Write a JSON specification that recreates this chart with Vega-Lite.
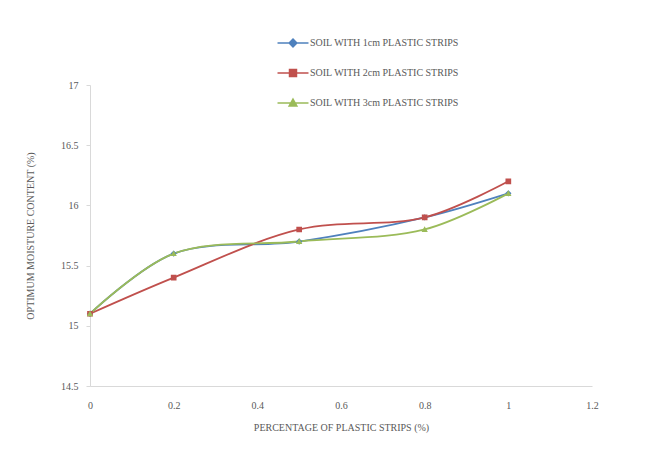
{
  "$schema": "https://vega.github.io/schema/vega-lite/v6.json",
  "width": 502,
  "height": 301,
  "autosize": {"type": "none"},
  "padding": {"left": 90, "top": 85, "right": 69, "bottom": 80},
  "background": "white",
  "config": {
    "view": {"stroke": null},
    "font": "Liberation Serif",
    "axis": {"labelFont": "Liberation Serif", "titleFont": "Liberation Serif", "labelColor": "#595959", "titleColor": "#595959", "labelFontSize": 10, "titleFontSize": 10, "titleFontWeight": "normal", "grid": false, "domainColor": "#d9d9d9", "tickColor": "#d9d9d9"},
    "legend": {"labelFont": "Liberation Serif", "labelFontSize": 10, "labelColor": "#595959"}
  },
  "data": {
    "values": [
      {"pct": 0, "omc": 15.1, "series": "SOIL WITH 1cm PLASTIC STRIPS"},
      {"pct": 0.2, "omc": 15.6, "series": "SOIL WITH 1cm PLASTIC STRIPS"},
      {"pct": 0.5, "omc": 15.7, "series": "SOIL WITH 1cm PLASTIC STRIPS"},
      {"pct": 0.8, "omc": 15.9, "series": "SOIL WITH 1cm PLASTIC STRIPS"},
      {"pct": 1.0, "omc": 16.1, "series": "SOIL WITH 1cm PLASTIC STRIPS"},
      {"pct": 0, "omc": 15.1, "series": "SOIL WITH 2cm PLASTIC STRIPS"},
      {"pct": 0.2, "omc": 15.4, "series": "SOIL WITH 2cm PLASTIC STRIPS"},
      {"pct": 0.5, "omc": 15.8, "series": "SOIL WITH 2cm PLASTIC STRIPS"},
      {"pct": 0.8, "omc": 15.9, "series": "SOIL WITH 2cm PLASTIC STRIPS"},
      {"pct": 1.0, "omc": 16.2, "series": "SOIL WITH 2cm PLASTIC STRIPS"},
      {"pct": 0, "omc": 15.1, "series": "SOIL WITH 3cm PLASTIC STRIPS"},
      {"pct": 0.2, "omc": 15.6, "series": "SOIL WITH 3cm PLASTIC STRIPS"},
      {"pct": 0.5, "omc": 15.7, "series": "SOIL WITH 3cm PLASTIC STRIPS"},
      {"pct": 0.8, "omc": 15.8, "series": "SOIL WITH 3cm PLASTIC STRIPS"},
      {"pct": 1.0, "omc": 16.1, "series": "SOIL WITH 3cm PLASTIC STRIPS"}
    ]
  },
  "encoding": {
    "x": {"field": "pct", "type": "quantitative", "scale": {"domain": [0, 1.2], "nice": false},
      "axis": {"values": [0, 0.2, 0.4, 0.6, 0.8, 1, 1.2], "format": ".1~f", "title": "PERCENTAGE OF PLASTIC STRIPS (%)", "ticks": false, "labelPadding": 14, "titlePadding": 12, "labelFlush": false}},
    "y": {"field": "omc", "type": "quantitative", "scale": {"domain": [14.5, 17], "nice": false, "zero": false},
      "axis": {"values": [14.5, 15, 15.5, 16, 16.5, 17], "format": ".1~f", "title": "OPTIMUM MOISTURE CONTENT (%)", "tickSize": 4, "labelPadding": 8, "titlePadding": 25, "labelFlush": false}},
    "color": {"field": "series", "type": "nominal",
      "scale": {"domain": ["SOIL WITH 1cm PLASTIC STRIPS", "SOIL WITH 2cm PLASTIC STRIPS", "SOIL WITH 3cm PLASTIC STRIPS"], "range": ["#4F81BD", "#C0504D", "#9BBB59"]},
      "legend": {"orient": "none", "legendX": 198, "legendY": -47, "title": null, "rowPadding": 16, "symbolSize": 60, "labelOffset": 12,
        "encode": {"symbols": {"update": {"stroke": {"scale": "color", "field": "value"}, "strokeWidth": {"value": 1.5}}}}}}
  },
  "layer": [
    {"mark": {"type": "line", "interpolate": "catmull-rom", "strokeWidth": 1.8}},
    {"mark": {"type": "point", "filled": true, "size": 40, "opacity": 1},
      "encoding": {"shape": {"field": "series", "type": "nominal",
        "scale": {"domain": ["SOIL WITH 1cm PLASTIC STRIPS", "SOIL WITH 2cm PLASTIC STRIPS", "SOIL WITH 3cm PLASTIC STRIPS"], "range": ["M-4,0H4M0,-1L1,0L0,1L-1,0Z", "M-4,0H4M-0.9,-0.9H0.9V0.9H-0.9Z", "M-4,0H4M0,-1L1,0.8L-1,0.8Z"]},
        "legend": {"orient": "none", "legendX": 198, "legendY": -47, "title": null, "rowPadding": 16, "symbolSize": 60, "labelOffset": 12,
          "encode": {"symbols": {"update": {"stroke": {"scale": "color", "field": "value"}, "strokeWidth": {"value": 1.5}}}}}}}}
  ]
}
